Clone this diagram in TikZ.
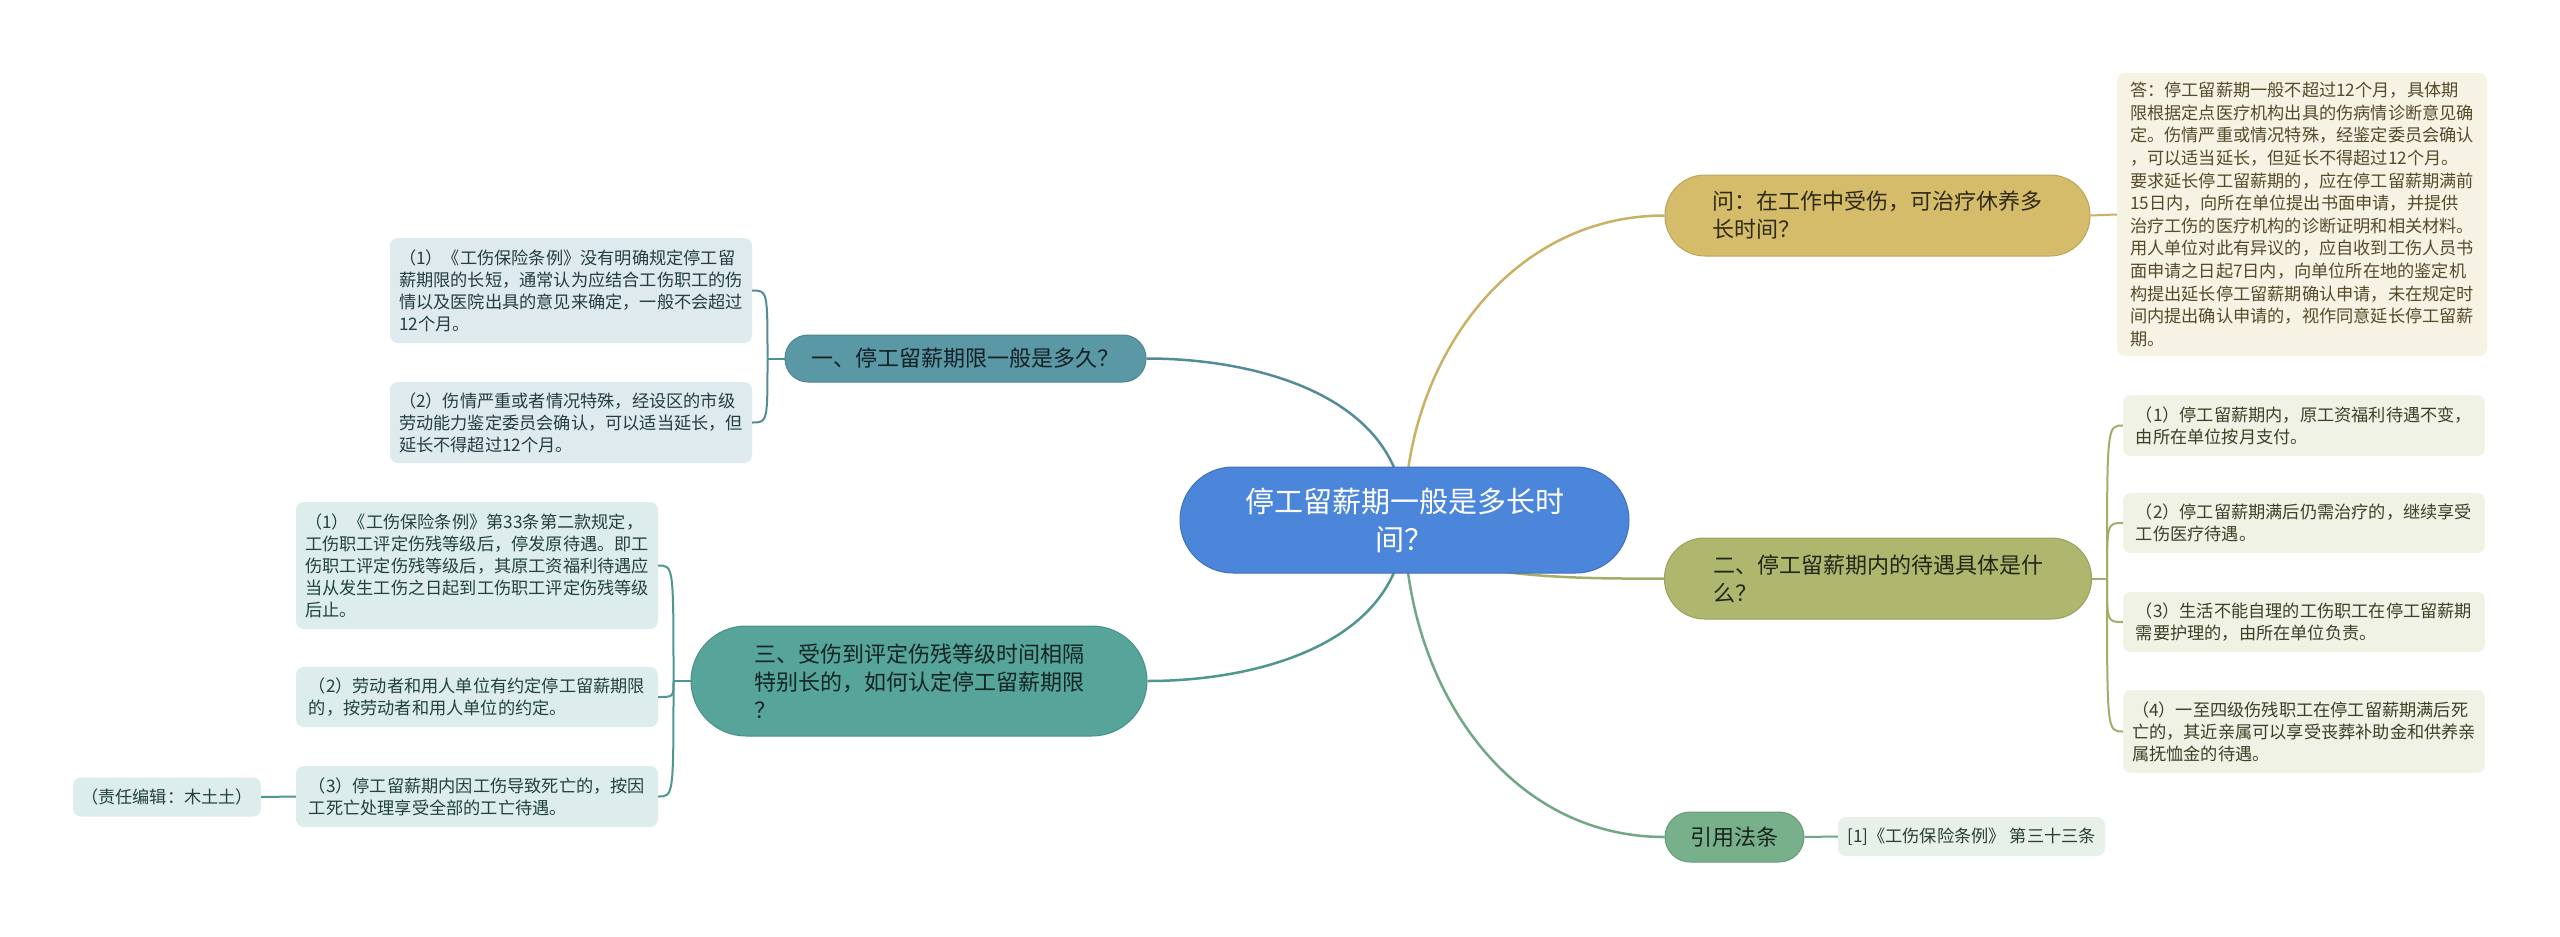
\documentclass[tikz,border=0pt]{standalone}
\usepackage{fontspec}
\setmainfont{Noto Sans CJK SC}
\usetikzlibrary{backgrounds,calc}
\definecolor{rootblue}{HTML}{4B86DA}
\definecolor{askgold}{HTML}{D4BC6A}
\definecolor{paygreen}{HTML}{AEB76D}
\definecolor{lawgreen}{HTML}{77B08B}
\definecolor{termteal}{HTML}{5A98A6}
\definecolor{gapteal}{HTML}{56A49A}
\tikzset{
  rootnode/.style={fill=rootblue, draw=rootblue!85!black, line width=1pt, text=white,
    align=center, rounded corners=53pt, minimum width=449pt, minimum height=106pt,
    inner sep=0pt, font=\fontsize{29}{38}\selectfont},
  branchnode/.style={line width=1pt, align=left, inner sep=0pt,
    font=\fontsize{22}{28}\selectfont},
  leafbox/.style={rounded corners=8pt, align=left, inner sep=0pt, minimum width=362pt,
    font=\fontsize{17.2}{22}\selectfont},
  asklf/.style={leafbox, fill=askgold!18!white, text=askgold!40!black},
  paylf/.style={leafbox, fill=paygreen!18!white, text=paygreen!35!black},
  lawlf/.style={leafbox, fill=lawgreen!18!white, text=lawgreen!35!black},
  termlf/.style={leafbox, fill=termteal!20!white, text=termteal!40!black},
  gaplf/.style={leafbox, fill=gapteal!20!white, text=gapteal!40!black},
  mainlink/.style={line width=2.5pt},
  sublink/.style={line width=2pt},
}

\begin{document}
\begin{tikzpicture}[x=1pt, y=1pt]
\useasboundingbox (0,0) rectangle (2560,-937);
% root topic
\node[rootnode] (root) at (1404.5,-520) {停工留薪期一般是多长时\\间？};
% upper right: question and answer
\node[branchnode, fill=askgold, draw=askgold!88!black, text=askgold!22!black,
  rounded corners=40pt, minimum width=425pt, minimum height=81pt] (ask) at (1877.5,-215.5)
  {问：在工作中受伤，可治疗休养多\\长时间？};
\node[asklf, minimum width=370pt, minimum height=283pt, font=\fontsize{17.2}{22.6}\selectfont]
  (answer) at (2302,-214.5)
  {答：停工留薪期一般不超过12个月，具体期\\限根据定点医疗机构出具的伤病情诊断意见确\\定。伤情严重或情况特殊，经鉴定委员会确认\\，可以适当延长，但延长不得超过12个月。\\要求延长停工留薪期的，应在停工留薪期满前\\15日内，向所在单位提出书面申请，并提供\\治疗工伤的医疗机构的诊断证明和相关材料。\\用人单位对此有异议的，应自收到工伤人员书\\面申请之日起7日内，向单位所在地的鉴定机\\构提出延长停工留薪期确认申请，未在规定时\\间内提出确认申请的，视作同意延长停工留薪\\期。};
% right: section two and its four leaves
\node[branchnode, fill=paygreen, draw=paygreen!88!black, text=paygreen!20!black,
  rounded corners=40pt, minimum width=427pt, minimum height=81pt] (pay) at (1878,-578.5)
  {二、停工留薪期内的待遇具体是什\\么？};
\node[paylf, minimum height=61pt] (pay1) at (2304,-425.5)
  {（1）停工留薪期内，原工资福利待遇不变，\\由所在单位按月支付。};
\node[paylf, minimum height=60pt] (pay2) at (2304,-523)
  {（2）停工留薪期满后仍需治疗的，继续享受\\工伤医疗待遇。};
\node[paylf, minimum height=60pt] (pay3) at (2304,-622)
  {（3）生活不能自理的工伤职工在停工留薪期\\需要护理的，由所在单位负责。};
\node[paylf, minimum height=83pt] (pay4) at (2304,-731.5)
  {（4）一至四级伤残职工在停工留薪期满后死\\亡的，其近亲属可以享受丧葬补助金和供养亲\\属抚恤金的待遇。};
% lower right: cited law
\node[branchnode, fill=lawgreen, draw=lawgreen!88!black, text=lawgreen!20!black,
  rounded corners=25pt, minimum width=139pt, minimum height=50pt] (law) at (1734.5,-837)
  {引用法条};
\node[lawlf, minimum width=267pt, minimum height=39pt] (lawref) at (1971.5,-836.5)
  {[1]《工伤保险条例》 第三十三条};
% upper left: section one
\node[branchnode, fill=termteal, draw=termteal!88!black, text=termteal!22!black,
  rounded corners=23pt, minimum width=361pt, minimum height=47pt] (term) at (965.5,-358.5)
  {一、停工留薪期限一般是多久？};
\node[termlf, minimum height=105pt] (term1) at (571,-290.5)
  {（1）《工伤保险条例》没有明确规定停工留\\薪期限的长短，通常认为应结合工伤职工的伤\\情以及医院出具的意见来确定，一般不会超过\\12个月。};
\node[termlf, minimum height=81pt] (term2) at (571,-422.5)
  {（2）伤情严重或者情况特殊，经设区的市级\\劳动能力鉴定委员会确认，可以适当延长，但\\延长不得超过12个月。};
% lower left: section three
\node[branchnode, fill=gapteal, draw=gapteal!88!black, text=gapteal!22!black,
  rounded corners=55pt, minimum width=456pt, minimum height=110pt] (gap) at (919,-681)
  {三、受伤到评定伤残等级时间相隔\\特别长的，如何认定停工留薪期限\\？};
\node[gaplf, minimum height=127pt] (gap1) at (477,-565.5)
  {（1）《工伤保险条例》第33条第二款规定，\\工伤职工评定伤残等级后，停发原待遇。即工\\伤职工评定伤残等级后，其原工资福利待遇应\\当从发生工伤之日起到工伤职工评定伤残等级\\后止。};
\node[gaplf, minimum height=60pt] (gap2) at (477,-697)
  {（2）劳动者和用人单位有约定停工留薪期限\\的，按劳动者和用人单位的约定。};
\node[gaplf, minimum height=61pt] (gap3) at (477,-796.5)
  {（3）停工留薪期内因工伤导致死亡的，按因\\工死亡处理享受全部的工亡待遇。};
\node[gaplf, minimum width=188pt, minimum height=39pt] (editor) at (167,-797)
  {（责任编辑：木土土）};
% connectors, behind the nodes
\begin{scope}[on background layer]
\fill[white] (0,0) rectangle (2560,-937);
\draw[mainlink, askgold!95!black] (root.center) to[out=90, in=180] (ask.west);
\draw[mainlink, paygreen!95!black] (root.center) to[out=-90, in=180, looseness=0.6] (pay.west);
\draw[mainlink, lawgreen!95!black] (root.center) to[out=-90, in=180] (law.west);
\draw[mainlink, termteal!92!black] (root.center) to[out=90, in=0] (term.east);
\draw[mainlink, gapteal!92!black] (root.center) to[out=-90, in=0] (gap.east);
\end{scope}
\draw[sublink, askgold!95!black] (ask.east) -- (answer.west);
\draw[sublink, lawgreen!95!black] (law.east) -- (lawref.west);
\draw[sublink, gapteal!92!black] (gap3.west) -- (editor.east);
\coordinate (payk) at ($(pay.east)+(15,0)$);
\draw[sublink, paygreen!95!black] (pay.east) -- (payk);
\foreach \leaf in {pay1,pay2,pay3,pay4}
  \draw[sublink, paygreen!95!black] (payk) .. controls (payk |- \leaf.west) .. (\leaf.west);
\coordinate (termk) at ($(term.west)+(-17,0)$);
\draw[sublink, termteal!92!black] (term.west) -- (termk);
\foreach \leaf in {term1,term2}
  \draw[sublink, termteal!92!black] (termk) .. controls (termk |- \leaf.east) .. (\leaf.east);
\coordinate (gapk) at ($(gap.west)+(-17,0)$);
\draw[sublink, gapteal!92!black] (gap.west) -- (gapk);
\foreach \leaf in {gap1,gap2,gap3}
  \draw[sublink, gapteal!92!black] (gapk) .. controls (gapk |- \leaf.east) .. (\leaf.east);
\end{tikzpicture}
\end{document}
